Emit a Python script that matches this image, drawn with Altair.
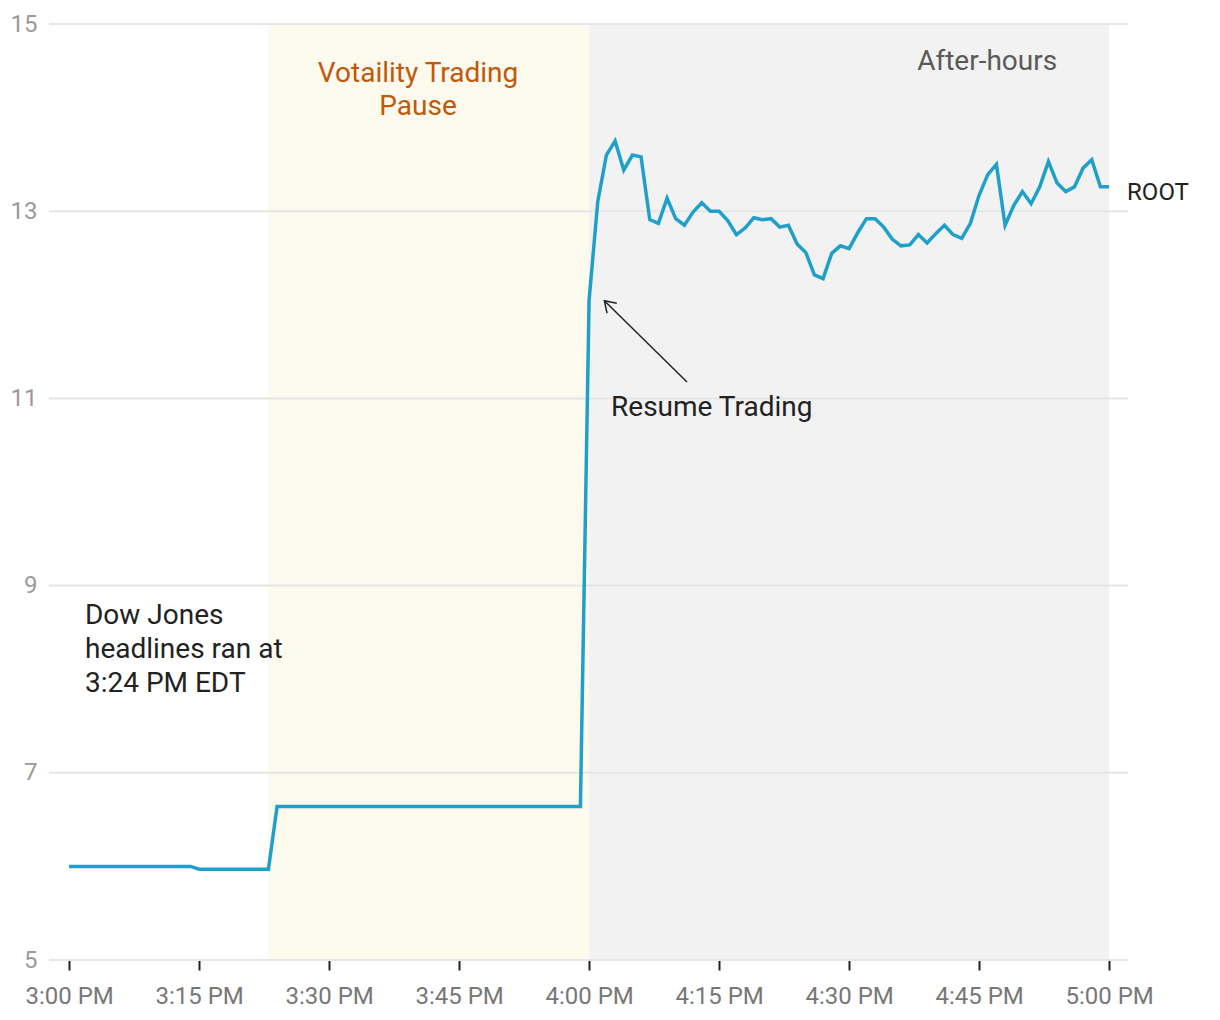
import altair as alt
import pandas as pd

# ---------------- data ----------------
DAY = "2020-06-01"

# one price per minute, 3:00 PM ... 5:00 PM
minute_offsets = list(range(0, 121))
prices = [
    # 3:00 - 3:14
    6.00, 6.00, 6.00, 6.00, 6.00, 6.00, 6.00, 6.00, 6.00, 6.00, 6.00, 6.00, 6.00, 6.00, 6.00,
    # 3:15 - 3:23
    5.97, 5.97, 5.97, 5.97, 5.97, 5.97, 5.97, 5.97, 5.97,
    # 3:24 - 3:59
    6.64, 6.64, 6.64, 6.64, 6.64, 6.64, 6.64, 6.64, 6.64, 6.64, 6.64, 6.64,
    6.64, 6.64, 6.64, 6.64, 6.64, 6.64, 6.64, 6.64, 6.64, 6.64, 6.64, 6.64,
    6.64, 6.64, 6.64, 6.64, 6.64, 6.64, 6.64, 6.64, 6.64, 6.64, 6.64, 6.64,
    # 4:00
    12.05,
    # 4:01 - 4:30
    13.10, 13.60, 13.75, 13.44, 13.60, 13.58, 12.91, 12.87, 13.14, 12.92,
    12.85, 12.99, 13.09, 13.00, 13.00, 12.90, 12.75, 12.82, 12.93, 12.91,
    12.92, 12.83, 12.85, 12.65, 12.56, 12.32, 12.28, 12.55, 12.63, 12.60,
    # 4:31 - 5:00
    12.77, 12.92, 12.92, 12.83, 12.70, 12.63, 12.64, 12.75, 12.66, 12.76,
    12.85, 12.75, 12.71, 12.87, 13.17, 13.39, 13.50, 12.85, 13.06, 13.21,
    13.08, 13.26, 13.53, 13.30, 13.21, 13.26, 13.46, 13.55, 13.26, 13.26,
]

tick_times = ["15:00", "15:15", "15:30", "15:45", "16:00", "16:15", "16:30", "16:45", "17:00"]
y_ticks = [5, 7, 9, 11, 13, 15]

shade_starts = ["15:23:00", "16:00:00"]
shade_ends = ["16:00:00", "17:00:00"]
shade_colors = ["#fcf9ed", "#f2f2f2"]

# ---------------- helpers ----------------
def ts(hms):
    if hms.count(":") == 1:
        hms = hms + ":00"
    return f"{DAY}T{hms}"


def dt(h, m, s=0):
    return alt.DateTime(year=2020, month=6, date=1, hours=h, minutes=m, seconds=s)


line_df = pd.DataFrame({
    "time": [ts(f"{15 + m // 60:02d}:{m % 60:02d}") for m in minute_offsets],
    "price": prices,
})
shade_df = pd.DataFrame({
    "start": [ts(s) for s in shade_starts],
    "end": [ts(e) for e in shade_ends],
    "lo": [5, 5],
    "hi": [15, 15],
    "fill": shade_colors,
})
grid_df = pd.DataFrame({"v": y_ticks})

W, H = 1079, 936
xscale = alt.Scale(domain=[dt(14, 57, 41), dt(17, 2, 11)])
yscale = alt.Scale(domain=[5, 15], nice=False, zero=False)

x_axis = alt.Axis(
    values=[dt(int(t[:2]), int(t[3:])) for t in tick_times],
    format="%-I:%M %p",
    grid=False, domain=False,
    ticks=True, tickSize=10, tickColor="#222", tickWidth=2,
    labelFont="Roboto", labelFontSize=24, labelColor="#777777",
    labelPadding=14, title=None,
)
y_axis = alt.Axis(
    values=y_ticks, grid=False, domain=False, ticks=False, tickSize=0,
    labelFont="Roboto", labelFontSize=24, labelColor="#9a9a9a",
    labelPadding=12, title=None,
)

shades = alt.Chart(shade_df).mark_rect().encode(
    x=alt.X("start:T", scale=xscale, axis=x_axis),
    x2="end:T",
    y=alt.Y("lo:Q", scale=yscale, axis=y_axis),
    y2="hi:Q",
    color=alt.Color("fill:N", scale=None),
)

grid = alt.Chart(grid_df).mark_rule(color="#e6e6e6", strokeWidth=2).encode(
    y=alt.Y("v:Q", scale=yscale, axis=y_axis),
    x=alt.value(0),
    x2=alt.value(W),
)

line = alt.Chart(line_df).mark_line(color="#1fa0cb", strokeWidth=3.5).encode(
    x=alt.X("time:T", scale=xscale, axis=x_axis),
    y=alt.Y("price:Q", scale=yscale, axis=y_axis),
)

# annotations
def label(text, t, v, color, size, align="left", line_height=34, dx=0):
    df = pd.DataFrame({"t": [ts(t)], "v": [v], "txt": [text]})
    return alt.Chart(df).mark_text(
        font="Roboto", fontSize=size, color=color, align=align,
        baseline="alphabetic", lineBreak="\n", lineHeight=line_height, dx=dx,
    ).encode(
        x=alt.X("t:T", scale=xscale, axis=x_axis),
        y=alt.Y("v:Q", scale=yscale, axis=y_axis),
        text="txt:N",
    )

pause_lbl = label("Votaility Trading\nPause", "15:40:16", 14.384, "#c1580a", 28, align="center", line_height=33)
after_lbl = label("After-hours", "16:45:56", 14.509, "#5a5a5a", 28, align="center")
dow_lbl = label("Dow Jones\nheadlines ran at\n3:24 PM EDT", "15:01:50", 8.59, "#222222", 28, line_height=34)
resume_lbl = label("Resume Trading", "16:02:32", 10.812, "#222222", 28)
root_lbl = label("ROOT", "17:00:00", 13.12, "#222222", 24, dx=18)

arrow_df = pd.DataFrame({
    "t0": [ts("16:11:18")], "v0": [11.175],
    "t1": [ts("16:01:46")], "v1": [12.044],
})
arrow_shaft = alt.Chart(arrow_df).mark_rule(color="#222222", strokeWidth=1.5).encode(
    x=alt.X("t0:T", scale=xscale, axis=x_axis),
    y=alt.Y("v0:Q", scale=yscale, axis=y_axis),
    x2="t1:T",
    y2="v1:Q",
)
arrow_head = alt.Chart(arrow_df).mark_point(
    shape="M-0.65,1L0,0L0.65,1", size=450, angle=315, filled=False,
    stroke="#222222", strokeWidth=1.5, opacity=1,
).encode(
    x=alt.X("t1:T", scale=xscale, axis=x_axis),
    y=alt.Y("v1:Q", scale=yscale, axis=y_axis),
)

chart = alt.layer(
    shades, grid, line, pause_lbl, after_lbl, dow_lbl, resume_lbl, root_lbl,
    arrow_shaft, arrow_head,
).properties(
    width=W, height=H,
    autosize=alt.AutoSizeParams(type="none"),
    padding={"left": 41, "top": 16, "right": 72, "bottom": 48},
).configure(font="Roboto").configure_view(stroke=None)

chart.save("out.html", embed_options={"renderer": "svg", "actions": False})
